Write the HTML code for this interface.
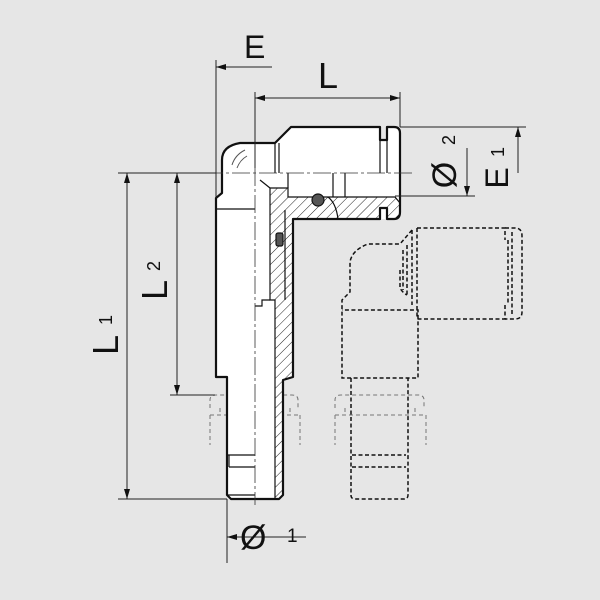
<!DOCTYPE html>
<html><head><style>
html,body{margin:0;padding:0;background:#e6e6e6;}
svg{display:block}
text{font-family:"Liberation Sans","DejaVu Sans",sans-serif;fill:#111}
</style></head><body>
<svg width="600" height="600" viewBox="0 0 600 600" xmlns="http://www.w3.org/2000/svg">
<defs>
<pattern id="h" patternUnits="userSpaceOnUse" width="7" height="7" patternTransform="rotate(45)">
<rect width="7" height="7" fill="#fff"/><line x1="0" y1="0" x2="0" y2="7" stroke="#222" stroke-width="1"/>
</pattern>
<marker id="a" markerWidth="10" markerHeight="6" refX="10" refY="3" orient="auto" markerUnits="userSpaceOnUse"><path d="M0,0 L10,3 L0,6 z" fill="#111"/></marker>
</defs>
<rect width="600" height="600" fill="#e6e6e6"/>

<g fill="none" stroke="#777" stroke-width="1" stroke-dasharray="4,3">
<path d="M210,408 V400 Q210,395 216,395 H292 Q298,395 298,400 V408"/>
<line x1="210" y1="415" x2="298" y2="415"/>
<path d="M210,415 V445 M300,415 V445 M220,408 V415 M290,408 V415"/>
<path d="M335,408 V400 Q335,395 341,395 H418 Q424,395 424,400 V408"/>
<line x1="335" y1="415" x2="424" y2="415"/>
<path d="M335,415 V445 M426,415 V445 M345,408 V415 M415,408 V415"/>
</g>

<path d="M216,377 V198 L222,193 V160 Q222,146 240,143 H275 L291,127 H380 V140 H387 V127 H394 Q400,127 400,133 V212 Q400,219 394,219 H293 V377 L283,380 V495 L279,499 H231 L227,495 V377 Z" fill="#fff" stroke="none"/>
<path d="M270,188 H288 V197 H395 L400,203 V214 L395,219 H387 V208 H380 V219 H293 V377 L283,380 V495 L279,499 H275 V300 H270 Z" fill="url(#h)" stroke="#111" stroke-width="1.2"/>
<path d="M216,377 V198 L222,193 V160 Q222,146 240,143 H275 L291,127 H380 V140 H387 V127 H394 Q400,127 400,133 V212 Q400,219 394,219 H387 V208 H380 V219 H293 V377 L283,380 V495 L279,499 H231 L227,495 V377 Z" fill="none" stroke="#111" stroke-width="2.2" stroke-linejoin="round"/>
<g stroke="#111" stroke-width="1.2" fill="none">
<path d="M216,377 H227"/>
<path d="M275,143 V173 M279,143 V173 M380,140 V173 M387,140 V173"/>
<path d="M216,209 H255 M260,180 L270,188"/>
<path d="M288,173 V188 M333,173 V197 M345,173 V197"/>
<path d="M285,210 V300 M270,300 L262,300 L262,306 H255"/>
<path d="M227,455 H255 M229,467 H255 M229,455 V467 M227,495 H255"/>
<path d="M328,197 Q336,203 338,219" />
</g>
<circle cx="318" cy="200" r="6" fill="#555" stroke="#111" stroke-width="1.2"/>
<rect x="276" y="233" width="7" height="13" rx="2" fill="#555" stroke="#111" stroke-width="1.2"/>
<path d="M232,165 Q235,155 245,150 M237,168 Q240,160 247,156" stroke="#555" fill="none"/>

<g stroke="#333" stroke-width="0.8" stroke-dasharray="18,3,3,3" fill="none">
<line x1="255" y1="168" x2="255" y2="505"/>
<line x1="205" y1="173" x2="415" y2="173"/>
</g>

<g fill="none" stroke="#111" stroke-width="1.5" stroke-dasharray="4,2.5">
<path d="M417,228 H505 V240 M505,305 V319 H417"/>
<path d="M505,228 H515 Q522,228 522,236 V312 Q522,319 515,319 H505"/>
<path d="M512,232 V316 M508,240 V305"/>
<path d="M412,230 L400,244 H368 Q352,250 350,262 V292 L342,300 V378 H418 V310 H342"/>
<path d="M412,230 V305 M417,228 V319 M403,250 V290 M407,245 V297 M400,270 V288 Q402,292 407,295"/>
<path d="M351,378 V495 Q351,499 355,499 H404 Q408,499 408,495 V378"/>
<path d="M352,455 H406 M352,467 H406"/>
</g>

<g stroke="#222" stroke-width="1" fill="none">
<line x1="216" y1="60" x2="216" y2="198"/>
<line x1="272" y1="67" x2="216" y2="67" marker-end="url(#a)"/>
<line x1="255" y1="92" x2="255" y2="168"/>
<line x1="400" y1="92" x2="400" y2="127"/>
<line x1="328" y1="98" x2="255" y2="98" marker-end="url(#a)"/>
<line x1="328" y1="98" x2="400" y2="98" marker-end="url(#a)"/>
<line x1="400" y1="127" x2="526" y2="127"/>
<line x1="395" y1="196" x2="475" y2="196"/>
<line x1="467" y1="148" x2="467" y2="196" marker-end="url(#a)"/>
<line x1="518" y1="173" x2="518" y2="127" marker-end="url(#a)"/>
<line x1="118" y1="173" x2="216" y2="173"/>
<line x1="118" y1="499" x2="227" y2="499"/>
<line x1="127" y1="330" x2="127" y2="173" marker-end="url(#a)"/>
<line x1="127" y1="330" x2="127" y2="499" marker-end="url(#a)"/>
<line x1="170" y1="395" x2="215" y2="395"/>
<line x1="177" y1="280" x2="177" y2="173" marker-end="url(#a)"/>
<line x1="177" y1="280" x2="177" y2="395" marker-end="url(#a)"/>
<line x1="227" y1="499" x2="227" y2="563"/>
<line x1="306" y1="537" x2="227" y2="537" marker-end="url(#a)"/>
</g>

<text x="244" y="58" font-size="32">E</text>
<text x="318" y="88" font-size="36">L</text>
<text transform="translate(456,175) rotate(-90)" font-size="34" text-anchor="middle">Ø</text>
<text transform="translate(455,140) rotate(-90)" font-size="18" text-anchor="middle">2</text>
<text transform="translate(508,178) rotate(-90)" font-size="32" text-anchor="middle">E</text>
<text transform="translate(504,152) rotate(-90)" font-size="18" text-anchor="middle">1</text>
<text transform="translate(118,345) rotate(-90)" font-size="36" text-anchor="middle">L</text>
<text transform="translate(112,320) rotate(-90)" font-size="18" text-anchor="middle">1</text>
<text transform="translate(167,290) rotate(-90)" font-size="36" text-anchor="middle">L</text>
<text transform="translate(160,266) rotate(-90)" font-size="18" text-anchor="middle">2</text>
<text x="240" y="549" font-size="34">Ø</text>
<text x="287" y="542" font-size="19">1</text>
</svg>
</body></html>
